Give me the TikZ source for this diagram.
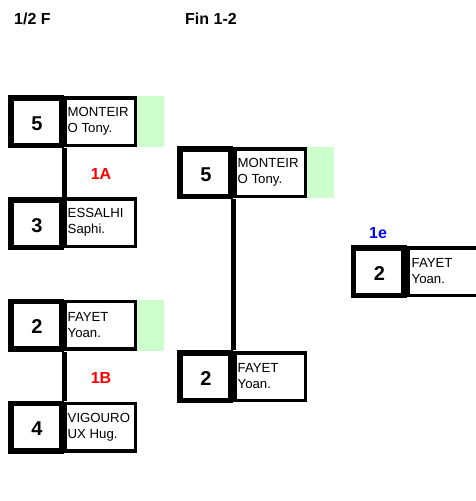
\documentclass[tikz,border=0pt]{standalone}
\usepackage{fontspec}
\setmainfont{Liberation Sans}
\definecolor{lgreen}{RGB}{204,255,204}
\definecolor{wred}{RGB}{255,0,0}
\definecolor{wblue}{RGB}{0,0,255}
\tikzset{
  x=1pt, y=-1pt,
  scorebox/.style={draw=black, line width=5.5pt, inner sep=0pt, minimum width=50.5pt, minimum height=47.5pt},
  scoretext/.style={inner sep=0pt, font=\fontsize{20}{20}\selectfont\bfseries},
  namebox/.style={draw=black, line width=3.5pt, inner sep=0pt, minimum width=70.5pt, minimum height=47.5pt},
  nametext/.style={anchor=west, inner sep=0pt, align=left, font=\fontsize{13.2}{16}\selectfont},
  greenbox/.style={fill=lgreen, draw=none, inner sep=0pt, minimum width=27pt, minimum height=51pt},
  conn/.style={line width=5pt},
  header/.style={anchor=west, inner sep=0pt, font=\fontsize{16}{16}\selectfont\bfseries},
  matchlabel/.style={inner sep=0pt, font=\fontsize{16}{16}\selectfont\bfseries},
}
\begin{document}
\begin{tikzpicture}
\useasboundingbox (0,0) rectangle (476,501);
% headers
\node[header] (h1) at (14,19) {1/2 F};
\node[header] (h2) at (185,19) {Fin 1-2};
% green highlights
\node[greenbox] (gA1) at (150,121.5) {};
\node[greenbox] (gB1) at (150,325) {};
\node[greenbox] (gF1) at (320,172.5) {};
% match 1A
\node[namebox] (nA1) at (100,121.5) {};
\node[nametext] at (67.5,121.5) {MONTEIR\\O Tony.};
\node[scorebox] (sA1) at (36,121.5) {};
\node[scoretext] at (37,123.5) {5};
\node[namebox] (nA2) at (100,222.5) {};
\node[nametext] at (67.5,222.5) {ESSALHI\\Saphi.};
\node[scorebox] (sA2) at (36,223.5) {};
\node[scoretext] at (37,225.5) {3};
\draw[conn] (sA1.south east) -- (sA2.north east);
\node[matchlabel, text=wred] (lA) at (101,173.5) {1A};
% match 1B
\node[namebox] (nB1) at (100,325) {};
\node[nametext] at (67.5,325) {FAYET\\Yoan.};
\node[scorebox] (sB1) at (36,325) {};
\node[scoretext] at (37,327) {2};
\node[namebox] (nB2) at (100,427) {};
\node[nametext] at (67.5,427) {VIGOURO\\UX Hug.};
\node[scorebox] (sB2) at (36,427) {};
\node[scoretext] at (37,429) {4};
\draw[conn] (sB1.south east) -- (sB2.north east);
\node[matchlabel, text=wred] (lB) at (101,377.5) {1B};
% final
\node[namebox] (nF1) at (270,172.5) {};
\node[nametext] at (237.5,172.5) {MONTEIR\\O Tony.};
\node[scorebox] (sF1) at (205,172.5) {};
\node[scoretext] at (206,174.5) {5};
\node[namebox] (nF2) at (270,376.5) {};
\node[nametext] at (237.5,376.5) {FAYET\\Yoan.};
\node[scorebox] (sF2) at (205,376.5) {};
\node[scoretext] at (206,378.5) {2};
\draw[conn] (sF1.south east) -- (sF2.north east);
% winner
\node[matchlabel, text=wblue] (le) at (378,233) {1e};
\node[namebox] (nW) at (443,271.5) {};
\node[nametext] at (411.5,271.5) {FAYET\\Yoan.};
\node[scorebox] (sW) at (378.5,271.5) {};
\node[scoretext] at (379.5,273.5) {2};
\end{tikzpicture}
\end{document}
